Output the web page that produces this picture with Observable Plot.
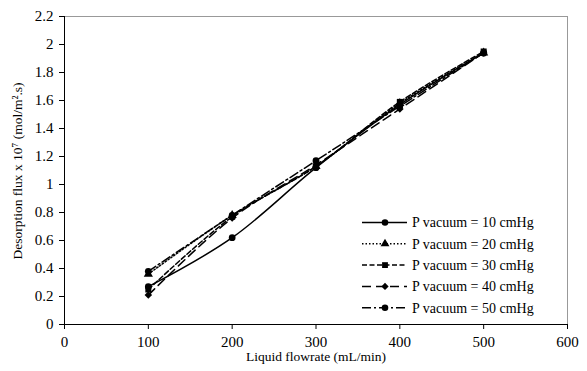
<!DOCTYPE html>
<html><head><meta charset="utf-8">
<script src="https://cdn.jsdelivr.net/npm/d3@7"></script>
<script src="https://cdn.jsdelivr.net/npm/@observablehq/plot@0.6"></script>
<style>body{margin:0;background:#fff;} svg{display:block;}</style>
</head><body><div id="chart"></div>
<script>
const flowrates = [100, 200, 300, 400, 500];
const seriesNames = ["P vacuum = 10 cmHg","P vacuum = 20 cmHg","P vacuum = 30 cmHg","P vacuum = 40 cmHg","P vacuum = 50 cmHg"];
const p10 = [0.27, 0.62, 1.12, 1.57, 1.94];
const p20 = [0.36, 0.78, 1.13, 1.58, 1.94];
const p30 = [0.25, 0.77, 1.13, 1.59, 1.95];
const p40 = [0.21, 0.76, 1.14, 1.54, 1.94];
const p50 = [0.38, 0.78, 1.17, 1.56, 1.94];
const xTicks = [0, 100, 200, 300, 400, 500, 600];
const yTicks = [0, 0.2, 0.4, 0.6, 0.8, 1, 1.2, 1.4, 1.6, 1.8, 2, 2.2];

const allSeries = [p10, p20, p30, p40, p50];
const dashes = [null, "1.5,2", "5,2.5", "9,5", "9,3,2,3"];
const symbols = ["circle", "triangle", "square", "diamond2", "circle"];
const data = allSeries.flatMap((vals, i) => vals.map((v, j) => ({x: flowrates[j], y: v, s: i})));

const font = "'Liberation Serif', 'Times New Roman', serif";
const marks = [
  Plot.frame({stroke: "#999", strokeWidth: 1}),
  Plot.ruleX([0], {stroke: "#000"}),
  Plot.ruleY([0], {stroke: "#000"}),
  Plot.axisX({ticks: xTicks, tickSize: 5, tickPadding: 7, label: null, fontSize: 15, tickFormat: d => String(d)}),
  Plot.axisY({ticks: yTicks, tickSize: 5, tickPadding: 6, label: null, fontSize: 15, tickFormat: d => String(+d.toFixed(1))})
];
allSeries.forEach((vals, i) => {
  const d = data.filter(e => e.s === i);
  marks.push(Plot.line(d, {x: "x", y: "y", curve: "catmull-rom", stroke: "#000", strokeWidth: 1.5, strokeDasharray: dashes[i]}));
  marks.push(Plot.dot(d, {x: "x", y: "y", symbol: symbols[i], r: 3.4, fill: "#000", stroke: "none"}));
});

const plot = Plot.plot({
  width: 587, height: 371,
  marginLeft: 64, marginRight: 20, marginTop: 16, marginBottom: 47,
  style: {fontFamily: font, fontSize: "15px", color: "#000", background: "#fff"},
  x: {domain: [0, 600]},
  y: {domain: [0, 2.2]},
  marks
});
document.getElementById("chart").appendChild(plot);

const svg = d3.select(plot);
// axis titles
svg.append("text").attr("x", 316).attr("y", 361).attr("text-anchor", "middle")
  .style("font-family", font).style("font-size", "13.5px").attr("fill", "#000").text("Liquid flowrate (mL/min)");
svg.append("text").attr("transform", "translate(22,171) rotate(-90)").attr("text-anchor", "middle")
  .style("font-family", font).style("font-size", "13.5px").attr("fill", "#000").text("Desorption flux x 10\u2077 (mol/m\u00b2.s)");

// legend
const sym = {circle: d3.symbolCircle, triangle: d3.symbolTriangle, square: d3.symbolSquare, diamond2: d3.symbolDiamond2};
const lg = svg.append("g");
seriesNames.forEach((name, i) => {
  const y = 222.5 + i * 21.3;
  lg.append("line").attr("x1", 362).attr("x2", 407).attr("y1", y).attr("y2", y)
    .attr("stroke", "#000").attr("stroke-width", 1.5).attr("stroke-dasharray", dashes[i]);
  lg.append("path").attr("d", d3.symbol(sym[symbols[i]], 34)()).attr("transform", `translate(385,${y})`).attr("fill", "#000");
  lg.append("text").attr("x", 412).attr("y", y).attr("dy", "0.35em").attr("text-anchor", "start")
    .style("font-family", font).style("font-size", "14px").attr("fill", "#000").text(name);
});
</script></body></html>
